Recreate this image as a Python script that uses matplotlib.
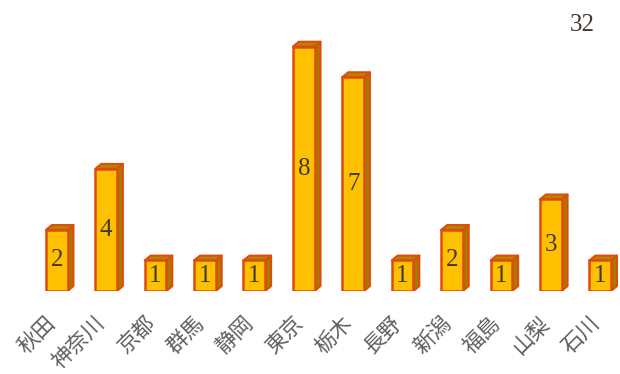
import matplotlib.pyplot as plt
import matplotlib.transforms as mtransforms
from matplotlib.patches import Polygon

plt.rcParams['font.family'] = ['Noto Sans CJK JP', 'DejaVu Sans']

prefectures = ['秋田', '神奈川', '京都', '群馬', '静岡', '東京', '栃木', '長野', '新潟', '福島', '山梨', '石川']
counts = [2, 4, 1, 1, 1, 8, 7, 1, 2, 1, 3, 1]
total = sum(counts)

front_color = '#FFC000'
side_color = '#A67C00'
top_color = '#B08600'
edge_color = '#E04A0C'
text_color = '#403A33'

fig = plt.figure(figsize=(6.2, 3.74), dpi=100)
ax = fig.add_axes([32 / 620, 83 / 374, 588 / 620, 275 / 374])
ax.set_xlim(-0.5, 11.4)
ax.set_ylim(0, 9)

w = 0.22   # half width of bar front
dx = 0.12  # depth offset in x
dy = 0.16  # depth offset in y

for i, v in enumerate(counts):
    side = Polygon([(i + w, 0), (i + w + dx, dy), (i + w + dx, v + dy), (i + w, v)],
                   closed=True, facecolor=side_color, edgecolor=edge_color, linewidth=1.4,
                   joinstyle='round')
    top = Polygon([(i - w, v), (i + w, v), (i + w + dx, v + dy), (i - w + dx, v + dy)],
                  closed=True, facecolor=top_color, edgecolor=edge_color, linewidth=1.4,
                  joinstyle='round')
    ax.add_patch(side)
    ax.add_patch(top)

ax.bar(range(len(counts)), counts, width=2 * w, color=front_color,
       edgecolor=edge_color, linewidth=1.8, zorder=3)

for i, v in enumerate(counts):
    ax.text(i, v / 2, str(v), ha='center', va='center', fontsize=18,
            family='Liberation Serif', color=text_color, zorder=4)

# category labels, rotated 45 degrees, ending at the bar centre
label_tf = ax.get_xaxis_transform() + mtransforms.ScaledTranslation(-12 / 100, -21 / 100, fig.dpi_scale_trans)
for i, name in enumerate(prefectures):
    ax.text(i, 0, name, transform=label_tf, rotation=45, ha='right', va='top',
            rotation_mode='anchor', fontsize=15.5, color='#5F5F5F')

ax.set_xticks([])
ax.set_yticks([])
for s in ax.spines.values():
    s.set_visible(False)

fig.text(582 / 620, 1 - 25 / 374, str(total), ha='center', va='center',
         fontsize=18, family='Liberation Serif', color=text_color)

fig.savefig('out.png', dpi=100)
